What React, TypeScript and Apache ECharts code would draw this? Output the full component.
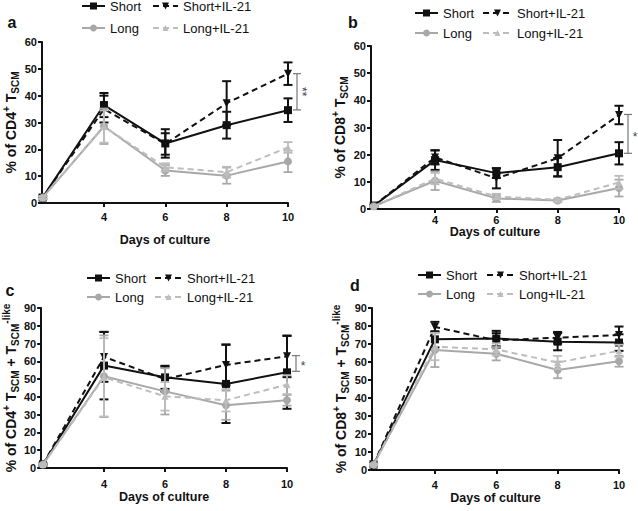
import React, { useEffect, useRef } from 'react';
import * as echarts from 'echarts';

const days = [2, 4, 6, 8, 10];
const xTickValues = [4, 6, 8, 10];
const groupNames = ['Short', 'Short+IL-21', 'Long', 'Long+IL-21'];

// Panel a: % of CD4+ TSCM
const aShort = [2, 36.5, 22.2, 29, 34.6];
const aShortErr = [0.5, 4.5, 5.3, 5, 4.4];
const aShortIL = [2, 35, 22, 37.2, 48.2];
const aShortILErr = [0.5, 5, 4, 8.2, 4.2];
const aLong = [2, 28.6, 12.1, 10.2, 15.5];
const aLongErr = [0.5, 6.6, 2, 3, 4];
const aLongIL = [2, 28.5, 13.3, 11.5, 20.7];
const aLongILErr = [0.5, 6, 1.5, 2, 2];
const aSig = [10, 34.7, 48.2];
const aSigLabel = '**';

// Panel b: % of CD8+ TSCM
const bShort = [1.2, 18, 13.2, 15.4, 20.5];
const bShortErr = [0.3, 3.6, 1.8, 3.4, 4.1];
const bShortIL = [1.2, 19, 11.3, 18.7, 34.6];
const bShortILErr = [0.3, 2.6, 3.7, 6.7, 3.4];
const bLong = [1, 10.4, 3.9, 3.1, 7.7];
const bLongErr = [0.3, 3.4, 1.3, 0.5, 3.1];
const bLongIL = [1, 11.2, 4.6, 3.4, 9.8];
const bLongILErr = [0.3, 2.1, 1, 0.5, 2.4];
const bSig = [10, 20.5, 34.8];
const bSigLabel = '*';

// Panel c: % of CD4+ TSCM + TSCM-like
const cShort = [2, 57.6, 51, 47.3, 53.8];
const cShortErr = [0.5, 19, 6.5, 22, 20.5];
const cShortIL = [2, 62.5, 50, 58, 62.8];
const cShortILErr = [0.5, 14, 7, 11.5, 11.7];
const cLong = [2, 51.6, 43.1, 35.3, 38.1];
const cLongErr = [0.5, 23, 13, 8.2, 3];
const cLongIL = [2, 51, 40.3, 38.1, 46.9];
const cLongILErr = [0.5, 22, 8, 6.3, 5.3];
const cSig = [10, 54.4, 63.2];
const cSigLabel = '*';

// Panel d: % of CD8+ TSCM + TSCM-like
const dShort = [3, 72.6, 73, 71.3, 70.8];
const dShortErr = [0.5, 4.5, 4.3, 4.8, 4.6];
const dShortIL = [3, 79.5, 72, 73.5, 75];
const dShortILErr = [0.5, 2.8, 4, 3.2, 4.7];
const dLong = [3, 66.7, 64.6, 55.6, 60.4];
const dLongErr = [0.5, 9.5, 3.7, 4.6, 3];
const dLongIL = [3, 68.5, 67, 59.7, 66.2];
const dLongILErr = [0.5, 7.5, 3.3, 3.7, 3.4];

const FONT = "'Liberation Sans', Arial, Helvetica, sans-serif";

const groupStyles = [
  { color: '#111111', dash: 'solid' as any, symbol: 'rect', size: 8, rotate: 0, errW: 2 },
  { color: '#111111', dash: [6, 4] as any, symbol: 'triangle', size: 8, rotate: 180, errW: 2 },
  { color: '#a8a8a8', dash: 'solid' as any, symbol: 'circle', size: 8, rotate: 0, errW: 1.8 },
  { color: '#bdbdbd', dash: [6, 4] as any, symbol: 'triangle', size: 7, rotate: 0, errW: 1.8 },
];

const panels = [
  {
    letter: 'a', letterPos: [12, 22],
    grid: { left: 42, top: 42, width: 246, height: 161 },
    xMin: 1.98, yMax: 60,
    yName: '{n|% of CD4}{sup|+}{n| T}{sub|SCM}',
    yNameGap: 21, xNameGap: 30, xLabelMargin: 8,
    means: [aShort, aShortIL, aLong, aLongIL],
    errs: [aShortErr, aShortILErr, aLongErr, aLongILErr],
    sig: aSig, sigLabel: aSigLabel,
    legend: { c1Line: 82, c1Text: 110, c2Line: 153, c2Text: 183, y1: 6, y2: 28 },
  },
  {
    letter: 'b', letterPos: [353, 22],
    grid: { left: 371, top: 46, width: 248, height: 163 },
    xMin: 1.91, yMax: 60,
    yName: '{n|% of CD8}{sup|+}{n| T}{sub|SCM}',
    yNameGap: 21, xNameGap: 16, xLabelMargin: 5,
    means: [bShort, bShortIL, bLong, bLongIL],
    errs: [bShortErr, bShortILErr, bLongErr, bLongILErr],
    sig: bSig, sigLabel: bSigLabel,
    legend: { c1Line: 415, c1Text: 443, c2Line: 483, c2Text: 517, y1: 13, y2: 33 },
  },
  {
    letter: 'c', letterPos: [10, 290],
    grid: { left: 41, top: 308, width: 246, height: 160 },
    xMin: 1.94, yMax: 90,
    yName: '{n|% of CD4}{sup|+}{n| T}{sub|SCM}{n| + T}{sub|SCM}{sup|-like}',
    yNameGap: 21, xNameGap: 22, xLabelMargin: 10,
    means: [cShort, cShortIL, cLong, cLongIL],
    errs: [cShortErr, cShortILErr, cLongErr, cLongILErr],
    sig: cSig, sigLabel: cSigLabel,
    legend: { c1Line: 87, c1Text: 115, c2Line: 155, c2Text: 187, y1: 278, y2: 297 },
  },
  {
    letter: 'd', letterPos: [355, 285],
    grid: { left: 372, top: 308, width: 247, height: 162 },
    xMin: 1.95, yMax: 90,
    yName: '{n|% of CD8}{sup|+}{n| T}{sub|SCM}{n| + T}{sub|SCM}{sup|-like}',
    yNameGap: 21, xNameGap: 21, xLabelMargin: 9,
    means: [dShort, dShortIL, dLong, dLongIL],
    errs: [dShortErr, dShortILErr, dLongErr, dLongILErr],
    sig: null as any, sigLabel: '',
    legend: { c1Line: 418, c1Text: 446, c2Line: 487, c2Text: 519, y1: 275, y2: 294 },
  },
];

function markerGraphic(i: number, cx: number, cy: number) {
  const st = groupStyles[i];
  const s = st.size - 1;
  const style = { fill: st.color, stroke: st.color, lineWidth: 0 };
  if (st.symbol === 'rect') {
    return { type: 'rect', shape: { x: cx - s / 2, y: cy - s / 2, width: s, height: s }, style, z: 101 };
  }
  if (st.symbol === 'circle') {
    return { type: 'circle', shape: { cx, cy, r: s / 2 }, style, z: 101 };
  }
  const h = s / 2;
  const pts = st.rotate === 180
    ? [[cx - h, cy - h], [cx + h, cy - h], [cx, cy + h]]
    : [[cx, cy - h], [cx + h, cy + h], [cx - h, cy + h]];
  return { type: 'polygon', shape: { points: pts }, style, z: 101 };
}

function buildOption() {
  const grid: any[] = [];
  const xAxis: any[] = [];
  const yAxis: any[] = [];
  const series: any[] = [];
  const graphic: any[] = [];

  panels.forEach((p, pi) => {
    grid.push({ ...p.grid, containLabel: false });
    xAxis.push({
      type: 'value', gridIndex: pi, min: p.xMin, max: 10,
      name: 'Days of culture', nameLocation: 'middle', nameGap: p.xNameGap,
      nameTextStyle: { fontFamily: FONT, fontWeight: 'bold', fontSize: 12.5, color: '#111' },
      axisLine: { show: true, onZero: false, lineStyle: { color: '#111', width: 2 } },
      axisTick: { show: true, length: 4, lineStyle: { color: '#111', width: 2 }, customValues: xTickValues },
      axisLabel: { fontFamily: FONT, fontWeight: 'bold', fontSize: 11, color: '#111', margin: p.xLabelMargin, customValues: xTickValues },
      splitLine: { show: false },
    });
    yAxis.push({
      type: 'value', gridIndex: pi, min: 0, max: p.yMax, interval: 10,
      name: p.yName, nameLocation: 'middle', nameRotate: 90, nameGap: p.yNameGap,
      nameTextStyle: {
        rich: {
          n: { fontFamily: FONT, fontWeight: 'bold', fontSize: 14, lineHeight: 19, color: '#111' },
          sup: { fontFamily: FONT, fontWeight: 'bold', fontSize: 10, lineHeight: 10, verticalAlign: 'top', color: '#111' },
          sub: { fontFamily: FONT, fontWeight: 'bold', fontSize: 10, lineHeight: 10, verticalAlign: 'bottom', color: '#111' },
        },
      },
      axisLine: { show: true, lineStyle: { color: '#111', width: 2 } },
      axisTick: { show: true, length: 4, lineStyle: { color: '#111', width: 2 } },
      axisLabel: { fontFamily: FONT, fontWeight: 'bold', fontSize: 11, color: '#111', margin: 5 },
      splitLine: { show: false },
    });

    p.means.forEach((m, gi) => {
      const st = groupStyles[gi];
      const err = p.errs[gi];
      series.push({
        type: 'custom', name: groupNames[gi] + ' err', xAxisIndex: pi, yAxisIndex: pi,
        data: days.map((d, k) => [d, m[k] - err[k], m[k] + err[k]]),
        itemStyle: { color: st.color },
        z: 2 + gi,
        renderItem: (params: any, api: any) => {
          const x = api.value(0);
          const lo = api.coord([x, api.value(1)]);
          const hi = api.coord([x, api.value(2)]);
          const w = 4.5;
          const ls = { stroke: st.color, lineWidth: st.errW };
          return {
            type: 'group',
            children: [
              { type: 'line', shape: { x1: lo[0], y1: lo[1], x2: hi[0], y2: hi[1] }, style: ls },
              { type: 'line', shape: { x1: lo[0] - w, y1: lo[1], x2: lo[0] + w, y2: lo[1] }, style: ls },
              { type: 'line', shape: { x1: hi[0] - w, y1: hi[1], x2: hi[0] + w, y2: hi[1] }, style: ls },
            ],
          };
        },
      });
      series.push({
        type: 'line', name: groupNames[gi], xAxisIndex: pi, yAxisIndex: pi,
        data: days.map((d, k) => [d, m[k]]),
        symbol: st.symbol, symbolSize: st.size, symbolRotate: st.rotate,
        lineStyle: { color: st.color, width: 2, type: st.dash },
        itemStyle: { color: st.color },
        z: 2 + gi,
      });
    });

    if (p.sig) {
      const label = p.sigLabel;
      const rotated = label.length > 1;
      series.push({
        type: 'custom', name: 'sig', xAxisIndex: pi, yAxisIndex: pi,
        data: [p.sig], clip: false, z: 10,
        itemStyle: { color: '#555' },
        renderItem: (params: any, api: any) => {
          const a = api.coord([api.value(0), api.value(1)]);
          const b = api.coord([api.value(0), api.value(2)]);
          const x = a[0] + 9;
          const mid = (a[1] + b[1]) / 2;
          const ls = { stroke: '#777', lineWidth: 1.2, fill: null };
          return {
            type: 'group',
            children: [
              { type: 'line', shape: { x1: x, y1: a[1], x2: x, y2: b[1] }, style: ls },
              { type: 'line', shape: { x1: x - 4, y1: a[1], x2: x + 4, y2: a[1] }, style: ls },
              { type: 'line', shape: { x1: x - 4, y1: b[1], x2: x + 4, y2: b[1] }, style: ls },
              {
                type: 'text',
                x: rotated ? x + 5 : x + 7,
                y: rotated ? mid : mid + 3,
                rotation: rotated ? -Math.PI / 2 : 0,
                style: { text: label, fontFamily: FONT, fontSize: 12, fill: '#444', align: 'center', verticalAlign: 'middle' },
              },
            ],
          };
        },
      });
    }

    graphic.push({
      type: 'text', x: p.letterPos[0], y: p.letterPos[1],
      style: { text: p.letter, fontFamily: FONT, fontWeight: 'bold', fontSize: 16, fill: '#111', align: 'center', verticalAlign: 'middle' },
    });

    const L = p.legend;
    groupNames.forEach((nm, gi) => {
      const st = groupStyles[gi];
      const col2 = gi % 2 === 1;
      const y = gi < 2 ? L.y1 : L.y2;
      const lx = col2 ? L.c2Line : L.c1Line;
      const tx = col2 ? L.c2Text : L.c1Text;
      const lineEnd = tx - 5;
      graphic.push({
        type: 'line', shape: { x1: lx, y1: y, x2: lineEnd, y2: y },
        style: { stroke: st.color, lineWidth: 2, lineDash: st.dash === 'solid' ? null : st.dash }, z: 100,
      });
      graphic.push(markerGraphic(gi, (lx + lineEnd) / 2, y));
      graphic.push({
        type: 'text', x: tx, y,
        style: { text: nm, fontFamily: FONT, fontSize: 13, fill: '#111', align: 'left', verticalAlign: 'middle' }, z: 100,
      });
    });
  });

  return { animation: false, backgroundColor: '#ffffff', grid, xAxis, yAxis, series, graphic };
}

export default function App() {
  const ref = useRef<HTMLDivElement>(null);
  useEffect(() => {
    document.body.style.margin = '0';
    if (!ref.current) return;
    const chart = echarts.init(ref.current, null as any, { renderer: 'svg' });
    chart.setOption(buildOption() as any);
    return () => chart.dispose();
  }, []);
  return <div ref={ref} style={{ width: 638, height: 511 }} />;
}
